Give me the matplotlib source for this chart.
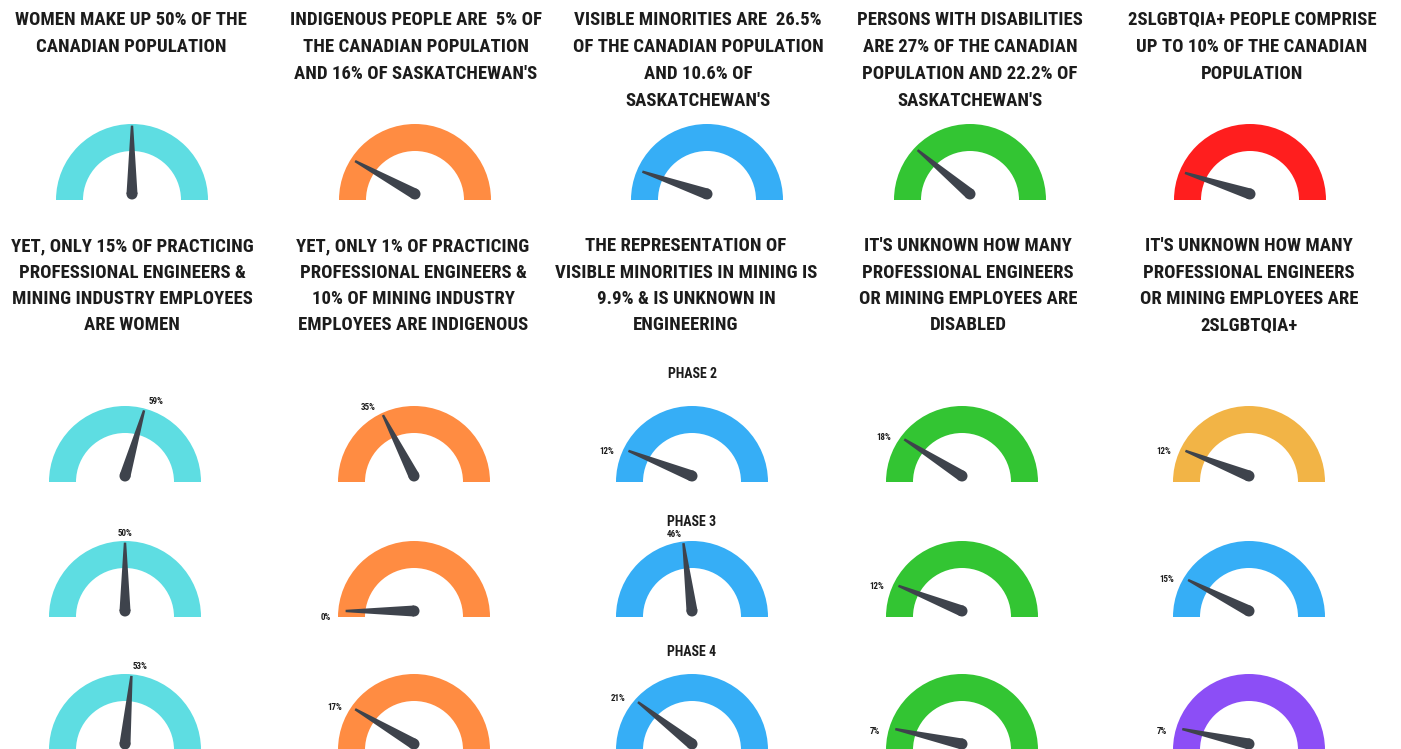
import numpy as np
import matplotlib
matplotlib.use("Agg")
import matplotlib.pyplot as plt
from matplotlib.patches import Wedge, Polygon, Circle
from matplotlib import font_manager

# ---------------- data ----------------
top_text = [
    ["WOMEN MAKE UP 50% OF THE", "CANADIAN POPULATION"],
    ["INDIGENOUS PEOPLE ARE  5% OF", "THE CANADIAN POPULATION", "AND 16% OF SASKATCHEWAN'S"],
    ["VISIBLE MINORITIES ARE  26.5%", "OF THE CANADIAN POPULATION", "AND 10.6% OF", "SASKATCHEWAN'S"],
    ["PERSONS WITH DISABILITIES", "ARE 27% OF THE CANADIAN", "POPULATION AND 22.2% OF", "SASKATCHEWAN'S"],
    ["2SLGBTQIA+ PEOPLE COMPRISE", "UP TO 10% OF THE CANADIAN", "POPULATION"],
]
mid_text = [
    ["YET, ONLY 15% OF PRACTICING", "PROFESSIONAL ENGINEERS &", "MINING INDUSTRY EMPLOYEES", "ARE WOMEN"],
    ["YET, ONLY 1% OF PRACTICING", "PROFESSIONAL ENGINEERS &", "10% OF MINING INDUSTRY", "EMPLOYEES ARE INDIGENOUS"],
    ["THE REPRESENTATION OF", "VISIBLE MINORITIES IN MINING IS", "9.9% & IS UNKNOWN IN", "ENGINEERING"],
    ["IT'S UNKNOWN HOW MANY", "PROFESSIONAL ENGINEERS", "OR MINING EMPLOYEES ARE", "DISABLED"],
    ["IT'S UNKNOWN HOW MANY", "PROFESSIONAL ENGINEERS", "OR MINING EMPLOYEES ARE", "2SLGBTQIA+"],
]
top_values = [50, 16, 10.6, 22.2, 10]
top_colors = ["#5EDDE2", "#FF8C42", "#36AEF6", "#33C533", "#FF1E1E"]

# lower three rows (phase 2, 3, 4), per column
women = [59, 50, 53]
indigenous = [35, 0, 17]
visible_minorities = [12, 46, 21]
disabilities = [18, 12, 7]
lgbt = [12, 15, 7]
lower_values = [women, indigenous, visible_minorities, disabilities, lgbt]
lower_colors = [
    ["#5EDDE2"] * 3,
    ["#FF8C42"] * 3,
    ["#36AEF6"] * 3,
    ["#33C533"] * 3,
    ["#F2B446", "#36AEF6", "#8C4EF6"],
]
phase_labels = ["PHASE 2", "PHASE 3", "PHASE 4"]

# ---------------- layout ----------------
W, H = 1401, 749
names = {f.name for f in font_manager.fontManager.ttflist}
fam = None
for cand in ["Liberation Sans Narrow", "DejaVu Sans Condensed", "Roboto Condensed", "Roboto", "DejaVu Sans"]:
    if cand in names:
        fam = cand
        break
plt.rcParams["font.family"] = [fam, "DejaVu Sans"]

fig = plt.figure(figsize=(W / 100, H / 100), dpi=100)
ax = fig.add_axes([0, 0, 1, 1])
ax.set_xlim(0, W)
ax.set_ylim(H, 0)
ax.axis("off")

TXT = "#1c1c1c"
NEEDLE = "#3E434C"
R = 76
R_IN = 49

top_text_x = [131, 416, 698, 970, 1252]
mid_text_x = [132, 413, 686, 968, 1249]
top_gx = [132, 415, 707, 970, 1250]
low_gx = [125, 414, 692, 962, 1249]
top_base = 200
low_base = [482, 617, 750]
phase_y = [374, 522, 652]


def gauge(cx, cy, value, color, label=None):
    # y axis is inverted, so the upper half is angles 180..360 in data space
    ax.add_patch(Wedge((cx, cy), R, 180, 360, width=R - R_IN, facecolor=color,
                       edgecolor="none"))
    th = np.pi * (1 - value / 100.0)
    d = np.array([np.cos(th), -np.sin(th)])
    n = np.array([-d[1], d[0]])
    px, py = cx, cy - 6
    p = np.array([px, py])
    L = 0.9 * R
    wb, wt = 5.5, 1.2
    pts = [p + n * wb, p + d * L + n * wt, p + d * L - n * wt, p - n * wb]
    ax.add_patch(Polygon(pts, closed=True, facecolor=NEEDLE, edgecolor="none"))
    ax.add_patch(Circle((px, py), wb, facecolor=NEEDLE, edgecolor="none"))
    if label is not None:
        lr = 1.1 * R
        c = np.cos(th)
        ha = "left" if c > 0.05 else ("right" if c < -0.05 else "center")
        ax.text(cx + lr * c, cy - lr * np.sin(th), label, fontsize=6.5,
                fontweight="bold", color=TXT, ha=ha, va="center")


for i in range(5):
    for j, line in enumerate(top_text[i]):
        ax.text(top_text_x[i], 20 + 27 * j, line, fontsize=13.5, fontweight="bold",
                color=TXT, ha="center", va="center")
    for j, line in enumerate(mid_text[i]):
        ax.text(mid_text_x[i], 246 + 26.5 * j, line, fontsize=13.5, fontweight="bold",
                color=TXT, ha="center", va="center")
    gauge(top_gx[i], top_base, top_values[i], top_colors[i])
    for r in range(3):
        v = lower_values[i][r]
        gauge(low_gx[i], low_base[r], v, lower_colors[i][r], f"{v}%")

for r in range(3):
    ax.text(low_gx[2], phase_y[r], phase_labels[r], fontsize=10, fontweight="bold",
            color=TXT, ha="center", va="center")

fig.savefig("out.png", dpi=100, facecolor="white")
